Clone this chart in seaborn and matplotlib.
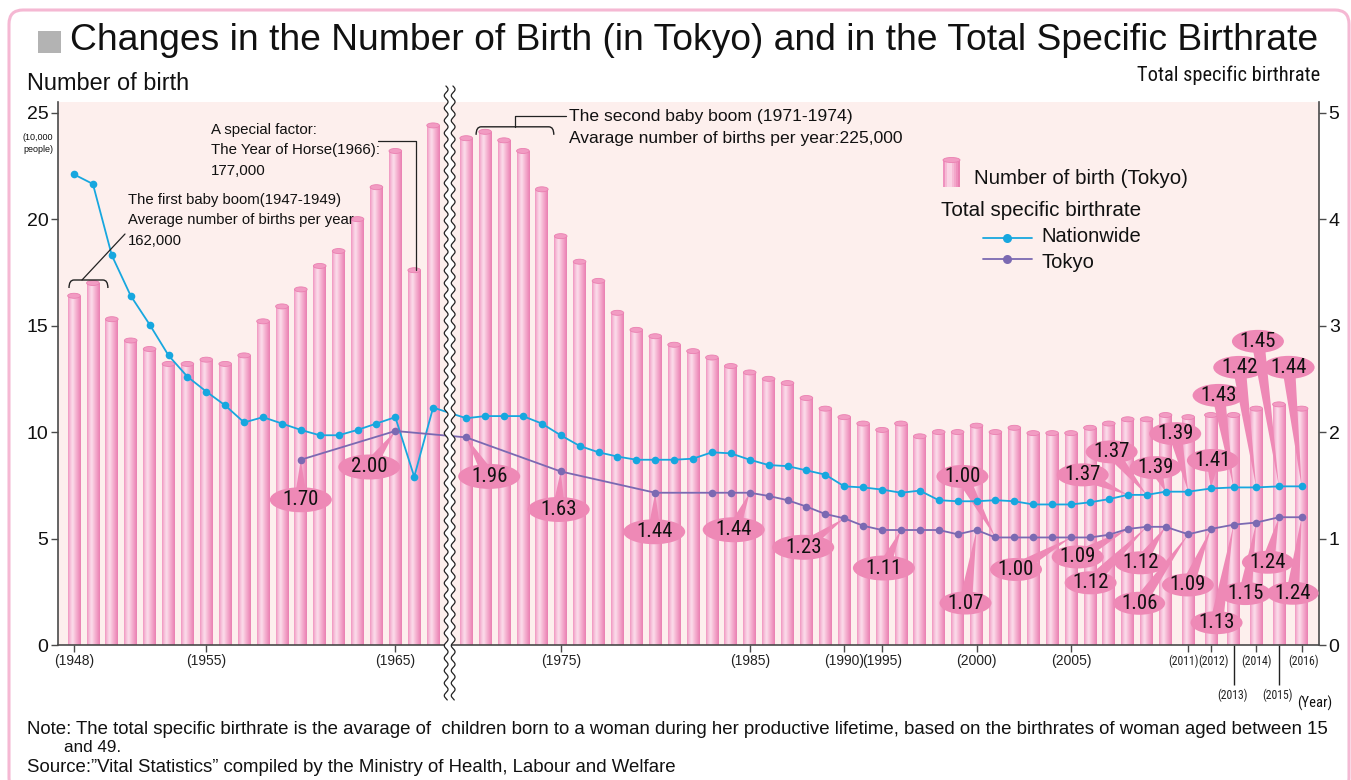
import numpy as np
import pandas as pd
import matplotlib
matplotlib.use("Agg")
import matplotlib.pyplot as plt
import seaborn as sns
from matplotlib import font_manager as fm
from matplotlib.patches import Ellipse, Polygon, Rectangle, FancyBboxPatch, PathPatch
from matplotlib.path import Path
from matplotlib.lines import Line2D
from matplotlib.transforms import IdentityTransform
from matplotlib.colors import LinearSegmentedColormap

# ---------------------------------------------------------------- data
years_left = list(range(1948, 1968))
years_right = list(range(1970, 1991)) + [1993] + list(range(1995, 2017))
years = years_left + years_right

# number of births in Tokyo (10,000 people)
births = [16.4, 17.0, 15.3, 14.3, 13.9, 13.2, 13.2, 13.4, 13.2, 13.6,
          15.2, 15.9, 16.7, 17.8, 18.5, 20.0, 21.5, 23.2, 17.6, 24.4,
          23.8, 24.1, 23.7, 23.2, 21.4, 19.2, 18.0, 17.1, 15.6, 14.8,
          14.5, 14.1, 13.8, 13.5, 13.1, 12.8, 12.5, 12.3, 11.6, 11.1,
          10.7, 10.4, 10.1,
          10.4, 9.8, 10.0, 10.0, 10.3, 10.0, 10.2, 9.95, 9.95, 9.95,
          10.2, 10.4, 10.6, 10.6, 10.8, 10.7, 10.8, 10.8, 11.1, 11.3, 11.1]

# total specific birthrate, nationwide
tfr_nation = [4.42, 4.33, 3.66, 3.28, 3.01, 2.72, 2.52, 2.38, 2.25, 2.09,
              2.14, 2.08, 2.02, 1.97, 1.97, 2.02, 2.08, 2.14, 1.58, 2.23,
              2.13, 2.15, 2.15, 2.15, 2.08, 1.97, 1.87, 1.81, 1.77, 1.74,
              1.74, 1.74, 1.75, 1.81, 1.80, 1.74, 1.69, 1.68, 1.64, 1.60,
              1.49, 1.48, 1.46,
              1.43, 1.45, 1.36, 1.35, 1.35, 1.36, 1.35, 1.32, 1.32, 1.32,
              1.34, 1.37, 1.41, 1.41, 1.44, 1.44, 1.47, 1.48, 1.48, 1.49, 1.49]

# total specific birthrate, Tokyo (None = not plotted)
tfr_tokyo = [None, None, None, None, None, None, None, None, None, None,
             None, None, 1.74, None, None, None, None, 2.01, None, None,
             1.95, None, None, None, None, 1.63, None, None, None, None,
             1.43, None, None, 1.43, 1.43, 1.43, 1.40, 1.36, 1.30, 1.23,
             1.19, 1.12, 1.08,
             1.08, 1.08, 1.08, 1.04, 1.08, 1.01, 1.01, 1.01, 1.01, 1.01,
             1.01, 1.035, 1.09, 1.11, 1.11, 1.04, 1.09, 1.13, 1.15, 1.20, 1.20]

# value labels (text, year, bubble offset in px)
tokyo_labels = [("1.70", 1960, 0, -40), ("2.00", 1965, -26, -36), ("1.96", 1970, 23, -39),
                ("1.63", 1975, -2, -38), ("1.44", 1980, -1, -39), ("1.44", 1985, -16, -37),
                ("1.23", 1990, -41, -29), ("1.11", 1996, -17, -38), ("1.07", 2000, -11, -73),
                ("1.00", 2001, -33, 61), ("1.00", 2005, -55, -32), ("1.09", 2008, -50, -28),
                ("1.12", 2009, -56, -56), ("1.12", 2010, -25, -36), ("1.06", 2011, -49, -69),
                ("1.09", 2012, -23, -56), ("1.13", 2013, -17, -98), ("1.15", 2014, -11, -71),
                ("1.24", 2015, -11, -45), ("1.24", 2016, -9, -76)]
nation_labels = [("1.37", 2008, -45, 20), ("1.37", 2009, -35, 43), ("1.39", 2010, -10, 24),
                 ("1.39", 2011, -13, 58), ("1.41", 2012, 2, 28), ("1.43", 2013, -15, 92),
                 ("1.42", 2014, -17, 120), ("1.45", 2015, -21, 145), ("1.44", 2016, -13, 119)]

xt_major = [1948, 1955, 1965, 1975, 1985, 1990, 1995, 2000, 2005]
xt_small = [2011, 2012, 2014, 2016]
xt_long = [2013, 2015]

# ---------------------------------------------------------------- fonts
def find_condensed():
    prefs = ["Liberation Sans Narrow", "Roboto Condensed", "Open Sans Condensed",
             "Noto Sans", "Roboto", "Open Sans", "DejaVu Sans"]
    found = {}
    for f in fm.fontManager.ttflist:
        narrow = ("Narrow" in f.name or "Condensed" in f.name
                  or str(f.stretch) in ("condensed", "semi-condensed", "extra-condensed"))
        if not narrow or f.style != "normal":
            continue
        if str(f.weight) not in ("400", "normal", "regular", "book"):
            continue
        found.setdefault(f.name, f.fname)
    for p in prefs:
        if p in found:
            return found[p]
    return None

COND_PATH = find_condensed()
REG = ["Liberation Sans", "DejaVu Sans"]

def cond_fp(size, fallback_size):
    if COND_PATH:
        return fm.FontProperties(fname=COND_PATH, size=size)
    return fm.FontProperties(family=REG, size=fallback_size)

sns.set_theme(style="ticks")
plt.rcParams["font.family"] = REG

C_NAT = "#17a7df"
C_TOK = "#7b69b2"
C_BUB = "#ee89b6"
C_BG = "#fdefed"
C_AX = "#4a4a4a"

W, H = 1351, 780
fig = plt.figure(figsize=(W / 100, H / 100), dpi=100)
ax = fig.add_axes([58 / W, 1 - 645 / H, (1319 - 58) / W, (645 - 102) / H])

# x positions: one slot per bar, a gap at the axis break, wider slots at the end
steps = np.ones(len(years))
steps[0] = 0
steps[len(years_left)] = 1.75
steps[-6:] = 1.2
pos = np.cumsum(steps)
xpos = dict(zip(years, pos))

df = pd.DataFrame({"year": years, "pos": pos, "births": births,
                   "nation": tfr_nation, "tokyo": pd.to_numeric(pd.Series(tfr_tokyo), errors="coerce")})

XLIM = (-0.847, 65.87)
YLIM = (0, 25.5)

# ---------------------------------------------------------------- bars
sns.barplot(data=df, x="pos", y="births", native_scale=True, width=0.67,
            color="#f5b3d0", errorbar=None, ax=ax, zorder=2)
cyl = LinearSegmentedColormap.from_list("cyl", [(0, "#ef92bf"), (0.12, "#f5b6d3"), (0.35, "#fcdfec"),
                                                (0.6, "#f6b7d3"), (0.85, "#ef93bf"), (1, "#e97fb0")])
grad = np.linspace(0, 1, 64).reshape(1, -1)
cap_h = 5 / 21.3
for p in list(ax.patches):
    x0, w, h = p.get_x(), p.get_width(), p.get_height()
    im = ax.imshow(grad, cmap=cyl, extent=[x0, x0 + w, 0, h], aspect="auto",
                   interpolation="bicubic", zorder=2)
    im.set_clip_path(p)
    p.set_facecolor("none")
    p.set_edgecolor("none")
    ax.add_patch(Ellipse((x0 + w / 2, h), w, cap_h, fc="#f29cc3", ec="#ea80b1", lw=0.6, zorder=3))

ax.set_xlim(*XLIM)
ax.set_ylim(*YLIM)
ax.set_facecolor(C_BG)
ax.set_xlabel("")
ax.set_ylabel("")

# ---------------------------------------------------------------- lines
ax2 = ax.twinx()
sns.lineplot(data=df, x="pos", y="nation", ax=ax2, color=C_NAT, lw=1.3,
             marker="o", markersize=5.5, markeredgewidth=0, zorder=4)
sns.lineplot(data=df.dropna(subset=["tokyo"]), x="pos", y="tokyo", ax=ax2, color=C_TOK, lw=1.3,
             marker="o", markersize=5.5, markeredgewidth=0, zorder=4)
ax2.set_ylim(0, 5.1)
ax.set_xlim(*XLIM)
ax2.set_ylabel("")
ax2.set_xlabel("")

# ---------------------------------------------------------------- axes
for a in (ax, ax2):
    for s in a.spines.values():
        s.set_color(C_AX)
        s.set_linewidth(1.2)
    a.spines["top"].set_visible(False)
ax.spines["right"].set_visible(False)
ax2.spines["left"].set_visible(False)
ax2.spines["bottom"].set_visible(False)

ax.set_yticks(range(0, 26, 5))
ax2.set_yticks(range(0, 6))
ax.tick_params(axis="y", left=True, direction="out", length=5, width=1, color=C_AX,
               labelsize=14, pad=2, labelcolor="#111")
ax2.tick_params(axis="y", right=True, direction="out", length=5, width=1, color=C_AX,
                labelsize=14, pad=2, labelcolor="#111")

ax.set_xticks([xpos[y] for y in xt_major + xt_small])
ax.set_xticklabels([])
ax.set_xticks([xpos[y] for y in xt_long], minor=True)
ax.tick_params(axis="x", which="major", bottom=True, length=5, width=1, color=C_AX)
ax.tick_params(axis="x", which="minor", bottom=True, length=29, width=1, color="#222")
ax.set_xlim(*XLIM)

for y in xt_major:
    ax.annotate(f"({y})", (xpos[y], 0), xycoords=("data", "axes fraction"), xytext=(0, -11.5),
                textcoords="offset points", ha="center", va="center", fontsize=10, color="#222")
small_dx = {2011: -3.6, 2012: 2.2, 2014: 0.5, 2016: 1.5}
for y in xt_small:
    ax.annotate(f"({y})", (xpos[y], 0), xycoords=("data", "axes fraction"), xytext=(small_dx[y], -11.5),
                textcoords="offset points", ha="center", va="center",
                fontproperties=cond_fp(8.5, 7), color="#222")
for y in xt_long:
    ax.annotate(f"({y})", (xpos[y], 0), xycoords=("data", "axes fraction"), xytext=(-1, -36.5),
                textcoords="offset points", ha="center", va="center",
                fontproperties=cond_fp(8.5, 7), color="#222")

fig.canvas.draw()
renderer = fig.canvas.get_renderer()
ID = IdentityTransform()

# ---------------------------------------------------------------- bubbles
def bubble(text, xv, yv, dx, dy, size):
    px, py = ax2.transData.transform((xv, yv))
    cx, cy = px + dx, py + dy
    d = np.array([px - cx, py - cy])
    d = d / np.hypot(*d)
    n = np.array([-d[1], d[0]]) * 6.5
    ax2.add_patch(Polygon([(cx + n[0], cy + n[1]), (cx - n[0], cy - n[1]), (px, py)], closed=True,
                          fc=C_BUB, ec="none", transform=ID, zorder=3, clip_on=False))
    ax2.add_patch(Ellipse((cx, cy), size[0], size[1], fc=C_BUB, ec="none", transform=ID,
                          zorder=3, clip_on=False))
    ax2.text(cx, cy, text, transform=ID, ha="center", va="center",
             fontproperties=cond_fp(15, 13), color="#111", zorder=6, clip_on=False)

tok = dict(zip(df["year"], df["tokyo"]))
nat = dict(zip(df["year"], df["nation"]))
for text, y, dx, dy in tokyo_labels:
    bubble(text, xpos[y], tok[y], dx, dy, (62, 25) if y < 2000 else (52, 23))
for text, y, dx, dy in nation_labels:
    bubble(text, xpos[y], nat[y], dx, dy, (52, 23))

# ---------------------------------------------------------------- texts
def put(lines, x, ys, width=None, size=12, fp=None, ha="left", color="#111"):
    kw = {"fontproperties": fp} if fp is not None else {"fontsize": size, "family": REG}
    ts = [fig.text(x / W, 1 - y / H, s, ha=ha, va="center", color=color, **kw)
          for s, y in zip(lines, ys)]
    if width:
        w = max(t.get_window_extent(renderer).width for t in ts)
        for t in ts:
            t.set_fontsize(t.get_fontsize() * width / w)
    return ts

fig.add_artist(FancyBboxPatch((9, -12), 1340, 782, boxstyle="round,pad=0,rounding_size=14",
                              fc="none", ec="#f5b8d3", lw=2.2, transform=ID, zorder=-1))
fig.add_artist(Rectangle((38, H - 53), 23, 22, fc="#b3b3b3", ec="none", transform=ID))
put(["Changes in the Number of Birth (in Tokyo) and in the Total Specific Birthrate"], 70, [41], width=1248, size=26)
put(["Number of birth"], 27, [84], width=162, size=15)
put(["Total specific birthrate"], 1137, [75], width=182, fp=cond_fp(13, 13))
put(["(10,000", "people)"], 38, [137, 150], size=6.5, ha="center")
put(["(Year)"], 1315, [703], width=35, fp=cond_fp(11, 11), ha="center")

put(["The first baby boom(1947-1949)", "Average number of births per year", "162,000"],
    128, [200, 220, 241], width=225, size=11)
put(["A special factor:", "The Year of Horse(1966):", "177,000"], 211, [130, 150, 171], width=169, size=11)
put(["The second baby boom (1971-1974)", "Avarage number of births per year:225,000"],
    569, [117, 139], width=334, size=12)

put(["Note: The total specific birthrate is the avarage of  children born to a woman during her productive "
     "lifetime, based on the birthrates of woman aged between 15"], 27, [730], width=1306, size=11)
put(["and 49."], 64, [748], size=12.3)
put(["Source:\u201dVital Statistics\u201d compiled by the Ministry of Health, Labour and Welfare"],
    27, [767], width=649, size=11)

# legend
lx0, lx1 = 943, 960
for i, c in enumerate(np.linspace(0, 1, 8)):
    fig.add_artist(Rectangle((lx0 + i * (lx1 - lx0) / 8, H - 187), (lx1 - lx0) / 8 + 0.3, 27,
                             fc=cyl(c), ec="none", transform=ID))
fig.add_artist(Ellipse(((lx0 + lx1) / 2, H - 160), lx1 - lx0, 5, fc="#f29cc3", ec="#ea80b1", lw=0.6, transform=ID))
put(["Number of birth (Tokyo)"], 974, [178], width=214, size=13)
put(["Total specific birthrate"], 941, [211], width=199, size=13)
put(["Nationwide", "Tokyo"], 1041, [237, 263], width=100, size=13)
for yy, c in ((238, C_NAT), (259, C_TOK)):
    fig.add_artist(Line2D([983, 1032], [H - yy, H - yy], color=c, lw=1.3, transform=ID))
    fig.add_artist(Line2D([1007], [H - yy], color=c, marker="o", ms=6.5, mew=0, transform=ID))

# ---------------------------------------------------------------- brackets / leaders
def dpt(xv, yv):
    return ax.transData.transform((xv, yv))

def bracket(xl, xr, yb):
    verts = [(xl, yb - 8), (xl, yb), (xl + 5, yb), (xr - 5, yb), (xr, yb), (xr, yb - 8)]
    codes = [Path.MOVETO, Path.CURVE3, Path.CURVE3, Path.LINETO, Path.CURVE3, Path.CURVE3]
    fig.add_artist(PathPatch(Path(verts, codes), fc="none", ec="#222", lw=1, transform=ID, zorder=5))

bmap = dict(zip(years, births))
x48, _ = dpt(xpos[1948], 0)
x49, t49 = dpt(xpos[1949], bmap[1949])
yb = t49 + 3
bracket(x48 - 5, x49 + 15, yb)
fig.add_artist(Line2D([x48 + 8, 125], [yb, H - 234], color="#222", lw=0.9, transform=ID, zorder=5))

x66, t66 = dpt(xpos[1966], bmap[1966])
fig.add_artist(Line2D([378, x66 + 2, x66 + 2], [H - 141, H - 141, t66], color="#222", lw=0.9,
                      transform=ID, zorder=5))

x71, t71 = dpt(xpos[1971], bmap[1971])
x74, _ = dpt(xpos[1974], 0)
yb2 = t71 + 5
bracket(x71 - 9, x74 + 12, yb2)
xm = (x71 - 9 + x74 + 12) / 2
fig.add_artist(Line2D([xm, xm, 566], [yb2, yb2 + 11, yb2 + 11], color="#222", lw=0.9, transform=ID, zorder=5))

# ---------------------------------------------------------------- axis break
xc = ax.transData.transform(((xpos[1967] + xpos[1970]) / 2, 0))[0]
ys = np.linspace(H - 700, H - 86, 600)
wave = 1.9 * np.sin(2 * np.pi * ys / 12.5)
left, right = xc - 3.5 + wave, xc + 3.5 + wave
fig.add_artist(Polygon(np.column_stack([np.r_[left, right[::-1]], np.r_[ys, ys[::-1]]]), closed=True,
                       fc="white", ec="none", transform=ID, zorder=10))
for xs in (left, right):
    fig.add_artist(Line2D(xs, ys, color="#222", lw=0.9, transform=ID, zorder=11))

fig.savefig("out.png", dpi=100)
